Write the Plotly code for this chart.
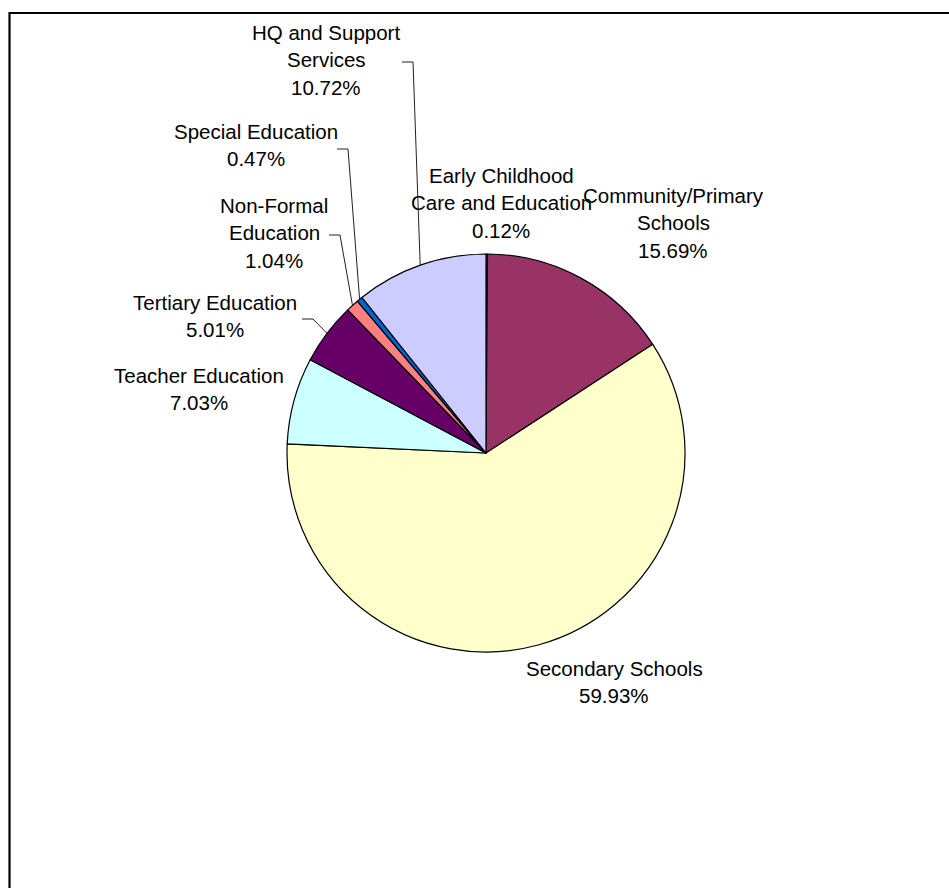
import math
import plotly.graph_objects as go

# Education budget shares by sub-sector (percent)
categories = [
    "Early Childhood Care and Education",
    "Community/Primary Schools",
    "Secondary Schools",
    "Teacher Education",
    "Tertiary Education",
    "Non-Formal Education",
    "Special Education",
    "HQ and Support Services",
]
shares = [0.12, 15.69, 59.93, 7.03, 5.01, 1.04, 0.47, 10.72]
colors = ["#9999FF", "#993366", "#FFFFCC", "#CCFFFF", "#660066", "#FF8080", "#0066CC", "#CCCCFF"]

# Label text split into lines
label_lines = {
    "Early Childhood Care and Education": ["Early Childhood", "Care and Education"],
    "Community/Primary Schools": ["Community/Primary", "Schools"],
    "Secondary Schools": ["Secondary Schools"],
    "Teacher Education": ["Teacher Education"],
    "Tertiary Education": ["Tertiary Education"],
    "Non-Formal Education": ["Non-Formal", "Education"],
    "Special Education": ["Special Education"],
    "HQ and Support Services": ["HQ and Support", "Services"],
}

W, H = 949, 888
CX, CY, R = 486, 453, 199
LINE_H = 27.5

# label placement: pixel x centre and y of the first text line
label_pos = {
    "Early Childhood Care and Education": (501, 175),
    "Community/Primary Schools": (673, 195),
    "Secondary Schools": (614, 668),
    "Teacher Education": (199, 375),
    "Tertiary Education": (215, 302),
    "Non-Formal Education": (274, 205),
    "Special Education": (256, 131),
    "HQ and Support Services": (326, 32),
}
# leader line elbow points (start, corner) for labels set away from their slice
leaders = {
    "HQ and Support Services": [(402, 62), (413, 62)],
    "Special Education": [(337, 149), (348, 149)],
    "Non-Formal Education": [(329, 235), (340, 235)],
    "Tertiary Education": [(302, 319), (313, 319)],
}

fig = go.Figure()

fig.add_trace(go.Pie(
    labels=categories,
    values=shares,
    sort=False,
    direction="clockwise",
    rotation=0,
    textinfo="none",
    hoverinfo="label+percent",
    marker=dict(colors=colors, line=dict(color="black", width=1.2)),
    showlegend=False,
    domain=dict(x=[(CX - R) / W, (CX + R) / W], y=[1 - (CY + R) / H, 1 - (CY - R) / H]),
))

# invisible pixel-space axes for labels and leader lines
fig.update_xaxes(range=[0, W], visible=False, fixedrange=True)
fig.update_yaxes(range=[H, 0], visible=False, fixedrange=True)

total = sum(shares)
cum = 0.0
font = dict(family="Liberation Sans, Arial, sans-serif", size=20.5, color="black")
for cat, val in zip(categories, shares):
    mid = (cum + val / 2) / total * 2 * math.pi
    cum += val
    ex = CX + R * math.sin(mid)
    ey = CY - R * math.cos(mid)
    lines = label_lines[cat] + [f"{val:.2f}%"]
    lx, ly = label_pos[cat]
    for i, line in enumerate(lines):
        fig.add_annotation(
            x=lx, y=ly + i * LINE_H, xref="x", yref="y",
            text=line, showarrow=False, font=font,
            xanchor="center", yanchor="middle",
        )
    if cat in leaders:
        (x0, y0), (x1, y1) = leaders[cat]
        path = f"M {x0} {y0} L {x1} {y1} L {ex:.1f} {ey:.1f}"
        fig.add_shape(type="path", path=path, xref="x", yref="y",
                      line=dict(color="#222222", width=1))

# outer chart frame
fig.add_shape(type="rect", xref="x", yref="y", x0=9.5, y0=13, x1=W + 20, y1=H + 20,
              line=dict(color="black", width=2.2), fillcolor="rgba(0,0,0,0)")

fig.update_layout(
    width=W, height=H,
    margin=dict(l=0, r=0, t=0, b=0),
    paper_bgcolor="white", plot_bgcolor="white",
)

fig.write_html("out.html")
